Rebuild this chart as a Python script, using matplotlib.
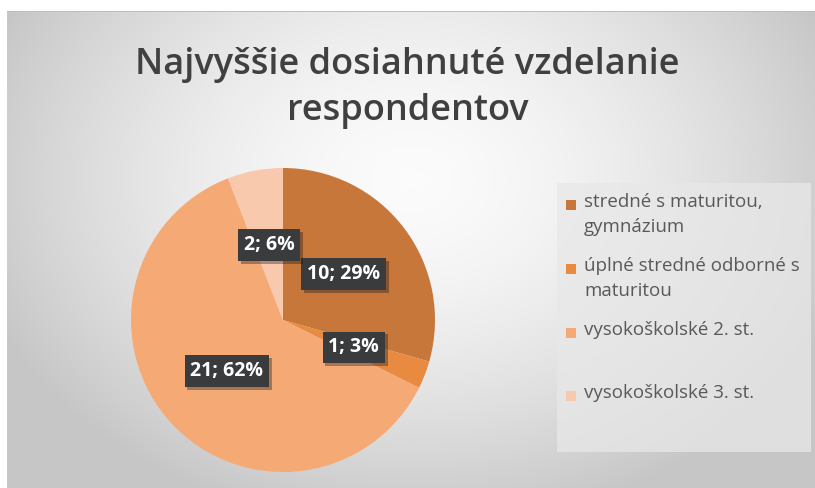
import matplotlib.pyplot as plt
import numpy as np
from matplotlib.patches import Rectangle
import matplotlib.patheffects as pe

# data
categories = [
    "stredné s maturitou,\ngymnázium",
    "úplné stredné odborné s\nmaturitou",
    "vysokoškolské 2. st.",
    "vysokoškolské 3. st.",
]
counts = [10, 1, 21, 2]
colors = ["#C8773A", "#E88B41", "#F5A974", "#F9C9AE"]
title = "Najvyššie dosiahnuté vzdelanie\nrespondentov"

W, H = 815, 488
fig = plt.figure(figsize=(W / 100, H / 100), dpi=100)
fig.patch.set_facecolor("white")

# radial gray gradient background for the chart area
bg = fig.add_axes([7 / W, 0, 1 - 7 / W, 1 - 11 / H])
yy, xx = np.mgrid[0:200, 0:300]
d = np.sqrt(((xx - 150) / 150) ** 2 + ((yy - 70) / 130) ** 2)
shade = np.clip(0.985 - 0.17 * d ** 1.6, 0.78, 1)
bg.imshow(np.dstack([shade] * 3), aspect="auto", extent=[0, 1, 0, 1], origin="upper")
bg.set_axis_off()
fig.add_artist(Rectangle((7 / W, 1 - 12 / H), 1 - 7 / W, 1.5 / H, transform=fig.transFigure,
                         facecolor="#bdbdbd", edgecolor="none"))

fig.text(0.5, 1 - 88 / H, title, ha="center", va="center", fontsize=26,
         family="Open Sans", fontweight="semibold", color="#404040", linespacing=1.4)

# pie
cx, cy, r = 283, 320, 152
ax = fig.add_axes([(cx - r) / W, (H - cy - r) / H, 2 * r / W, 2 * r / H])
total = sum(counts)
wedges, _, autotexts = ax.pie(
    counts, colors=colors, startangle=90, counterclock=False, radius=1,
    autopct=lambda p: f"{round(p * total / 100)}; {p:.0f}%", pctdistance=0.5,
    wedgeprops=dict(linewidth=0),
    textprops=dict(color="white", fontsize=14, fontweight="bold", family="Open Sans"),
)
for t in autotexts:
    t.set_bbox(dict(boxstyle="square,pad=0.3", facecolor="#3a3b3d", edgecolor="none",
                    path_effects=[pe.SimplePatchShadow(offset=(2, -2), alpha=0.35),
                                  pe.Normal()]))
ax.set_xlim(-1, 1)
ax.set_ylim(-1, 1)
ax.set_aspect("equal")
ax.set_axis_off()

# legend box
lx0, ly0, lx1, ly1 = 557, 183, 811, 452
fig.add_artist(Rectangle((lx0 / W, 1 - ly1 / H), (lx1 - lx0) / W, (ly1 - ly0) / H,
                         transform=fig.transFigure, facecolor="#e8e8e8",
                         edgecolor="none", alpha=0.75))
entry_y = [205, 269, 333, 396]
for lab, col, y in zip(categories, colors, entry_y):
    fig.add_artist(Rectangle((566 / W, 1 - (y + 5) / H), 10 / W, 10 / H,
                             transform=fig.transFigure, facecolor=col, edgecolor="none"))
    fig.text(584 / W, 1 - (y - 12) / H, lab, ha="left", va="top", fontsize=13.5,
             family="Open Sans", color="#595959", linespacing=1.5)

fig.savefig("out.png", dpi=100)
